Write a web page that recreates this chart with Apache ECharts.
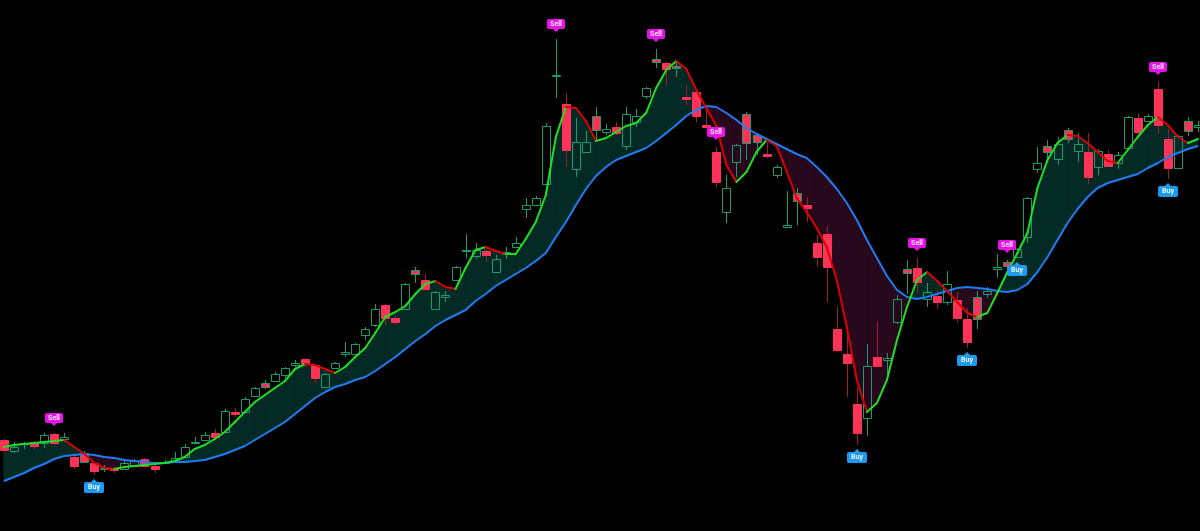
<!DOCTYPE html>
<html>
<head>
<meta charset="utf-8">
<title>Signals chart</title>
<script src="https://cdn.jsdelivr.net/npm/echarts@6/dist/echarts.min.js"></script>
<style>
  html, body { margin: 0; padding: 0; background: #000; overflow: hidden; }
  /* bars run a little past both edges of the window */
  #chart { width: 1204px; height: 531px; margin-left: -1px; }
</style>
</head>
<body>
<div id="chart"></div>
<script>
// candle data, one entry per bar
const opens = [
  91, 80, 87, 89, 88, 97, 92, 74, 78, 68,
  63, 63, 62, 65, 72, 65, 68, 69, 74, 88,
  91, 98, 99, 119, 119, 135, 148, 150, 156, 166,
  172, 166, 144, 163, 177, 177, 196, 206, 226, 213,
  222, 261, 251, 222, 234, 251, 281, 275, 280, 259,
  277, 284, 322, 326, 347, 455, 427, 362, 379, 415,
  399, 404, 385, 409, 435, 472, 468, 465, 434, 439,
  406, 379, 319, 369, 417, 396, 377, 356, 304, 338,
  326, 288, 297, 202, 177, 127, 113, 174, 171, 209,
  262, 263, 232, 235, 229, 231, 212, 234, 237, 262,
  269, 274, 294, 362, 385, 372, 401, 380, 379, 364,
  377, 368, 383, 413, 410, 442, 392, 363, 410, 404
];
const closes = [
  81, 84, 88, 85, 96, 88, 94, 65, 69, 60,
  62, 61, 68, 70, 65, 62, 69, 73, 84, 89,
  96, 94, 120, 117, 132, 143, 144, 157, 163, 168,
  168, 153, 157, 168, 179, 187, 202, 222, 213, 209,
  247, 257, 242, 239, 236, 264, 280, 281, 276, 272,
  279, 288, 326, 333, 405, 456, 381, 389, 389, 401,
  402, 398, 417, 415, 443, 469, 462, 463, 432, 415,
  404, 349, 343, 386, 388, 389, 375, 364, 306, 330,
  323, 274, 264, 181, 168, 98, 165, 165, 173, 232,
  258, 249, 239, 229, 247, 213, 189, 212, 240, 264,
  265, 282, 333, 368, 379, 387, 392, 387, 354, 380,
  365, 376, 414, 399, 415, 406, 363, 395, 400, 406
];
const lows = [
  79, 78, 82, 82, 83, 86, 89, 62, 68, 56,
  59, 58, 61, 64, 64, 58, 67, 68, 73, 87,
  90, 91, 98, 114, 118, 134, 142, 149, 153, 164,
  164, 148, 143, 162, 174, 176, 191, 204, 206, 206,
  221, 248, 241, 221, 229, 250, 273, 272, 269, 258,
  272, 283, 313, 325, 346, 433, 364, 354, 378, 391,
  396, 396, 381, 404, 432, 463, 445, 454, 426, 409,
  403, 344, 308, 354, 371, 376, 373, 353, 303, 306,
  309, 264, 229, 179, 134, 86, 95, 164, 154, 207,
  237, 238, 224, 222, 226, 208, 183, 202, 233, 253,
  263, 273, 288, 358, 368, 366, 388, 369, 347, 356,
  364, 362, 382, 394, 409, 397, 352, 362, 395, 399
];
const highs = [
  92, 89, 89, 90, 98, 98, 98, 76, 80, 69,
  66, 64, 70, 72, 73, 66, 71, 79, 87, 94,
  99, 102, 122, 123, 134, 144, 151, 159, 164, 171,
  173, 167, 158, 169, 189, 188, 204, 227, 227, 216,
  248, 264, 257, 240, 240, 265, 297, 288, 281, 276,
  284, 294, 333, 335, 408, 492, 438, 413, 400, 424,
  407, 409, 424, 422, 444, 482, 469, 471, 446, 440,
  423, 384, 356, 387, 419, 398, 388, 366, 340, 343,
  334, 296, 305, 224, 204, 143, 187, 209, 178, 236,
  271, 273, 248, 241, 260, 239, 223, 240, 244, 277,
  271, 283, 334, 384, 391, 394, 403, 398, 398, 382,
  381, 379, 415, 418, 417, 449, 402, 396, 414, 410
];
// fast line (green up / red down) and slow line (blue)
const fastLine = [
  84, 86, 87, 88, 89, 90, 91, 84, 77, 68,
  63, 62, 64, 65, 66, 67, 68, 70, 74, 82,
  86, 92, 99, 109, 119, 129, 136, 143, 150, 162,
  167, 166, 162, 158, 164, 174, 183, 198, 214, 219,
  225, 237, 247, 250, 244, 242, 263, 281, 284, 280,
  277, 277, 292, 309, 336, 394, 424, 423, 410, 390,
  393, 399, 405, 408, 418, 443, 461, 470, 462, 441,
  423, 405, 366, 349, 359, 379, 391, 385, 360, 333,
  319, 303, 284, 251, 204, 151, 119, 128, 151, 191,
  224, 251, 259, 250, 240, 229, 218, 214, 218, 238,
  259, 278, 298, 343, 371, 388, 396, 395, 388, 379,
  370, 368, 381, 394, 406, 414, 406, 394, 388, 392
];
const slowLine = [
  50, 54, 58, 63, 67, 72, 75, 76, 77, 76,
  74, 73, 71, 70, 69, 68, 68, 69, 69, 70,
  71, 74, 77, 81, 85, 91, 97, 103, 109, 117,
  125, 133, 139, 144, 147, 151, 154, 160, 167, 174,
  182, 190, 197, 205, 211, 216, 221, 230, 237, 245,
  251, 257, 263, 270, 278, 294, 309, 326, 342, 355,
  364, 371, 375, 379, 383, 390, 398, 406, 415, 421,
  425, 424, 418, 411, 403, 397, 392, 387, 382, 377,
  373, 364, 354, 342, 328, 311, 291, 273, 255, 241,
  234, 232, 234, 237, 240, 243, 244, 243, 242, 240,
  239, 241, 247, 259, 274, 291, 308, 322, 334, 343,
  348, 351, 354, 357, 363, 368, 374, 378, 382, 385
];
// bars that carry a signal label
const sellBars = [5, 55, 65, 71, 91, 100, 115];
const buyBars = [9, 85, 96, 101, 116];

const UP = '#1a9c6c';
const DOWN = '#ff3358';
const DOWN_WICK = '#9c1c30';
const FAST_UP = '#22dd22';
const FAST_DOWN = '#dd0000';
const SLOW = '#1f7cf2';
const BULL_FILL = '#042a26';
const BEAR_FILL = '#28081c';
const SELL_BG = '#e812e8';
const BUY_BG = '#1e9bf0';

const cats = opens.map((v, i) => i);
const candleData = opens.map((o, i) => [i, o, closes[i], lows[i], highs[i]]);
const segData = fastLine.slice(0, -1).map((v, i) => [i, v, fastLine[i + 1]]);
const bandData = fastLine.slice(0, -1).map((v, i) => [i, v, fastLine[i + 1], slowLine[i], slowLine[i + 1]]);
const sellData = sellBars.map(i => [i, highs[i]]);
const buyData = buyBars.map(i => [i, lows[i]]);

function renderCandle(params, api) {
  const i = api.value(0);
  const o = api.value(1), c = api.value(2), l = api.value(3), h = api.value(4);
  const x = Math.round(api.coord([i, o])[0]) + 0.5;
  const yo = api.coord([i, o])[1], yc = api.coord([i, c])[1];
  const yl = api.coord([i, l])[1], yh = api.coord([i, h])[1];
  const top = Math.round(Math.min(yo, yc)) + 0.5;
  const hgt = Math.max(1, Math.round(Math.abs(yo - yc)));
  const bot = top + hgt;
  const up = c >= o;
  // red bodies that still close above the previous bar keep a green outline
  const greenEdge = up || (i > 0 && c > closes[i - 1]);
  const edge = greenEdge ? UP : DOWN;
  const wick = greenEdge ? UP : DOWN_WICK;
  return {
    type: 'group',
    children: [
      { type: 'line', shape: { x1: x, y1: yh, x2: x, y2: top }, style: { stroke: wick, lineWidth: 1 } },
      { type: 'line', shape: { x1: x, y1: bot, x2: x, y2: yl }, style: { stroke: wick, lineWidth: 1 } },
      {
        type: 'rect',
        shape: { x: x - 4, y: top, width: 8, height: hgt },
        style: { fill: up ? 'transparent' : DOWN, stroke: edge, lineWidth: 1 }
      }
    ]
  };
}

function renderSegment(params, api) {
  const i = api.value(0);
  const a = api.coord([i, api.value(1)]);
  const b = api.coord([i + 1, api.value(2)]);
  return {
    type: 'line',
    shape: { x1: a[0], y1: a[1], x2: b[0], y2: b[1] },
    style: { stroke: api.value(2) >= api.value(1) ? FAST_UP : FAST_DOWN, lineWidth: 2, lineCap: 'round' }
  };
}

// filled band between the two lines, split where they cross
function renderBand(params, api) {
  const i = api.value(0);
  const fv0 = api.value(1), fv1 = api.value(2), sv0 = api.value(3), sv1 = api.value(4);
  const f0 = api.coord([i, fv0]), f1 = api.coord([i + 1, fv1]);
  const s0 = api.coord([i, sv0]), s1 = api.coord([i + 1, sv1]);
  const d0 = fv0 - sv0, d1 = fv1 - sv1;
  const col = d => (d >= 0 ? BULL_FILL : BEAR_FILL);
  const poly = (pts, c) => ({ type: 'polygon', shape: { points: pts }, style: { fill: c, stroke: c, lineWidth: 1.5 } });
  if (d0 * d1 < 0) {
    const t = d0 / (d0 - d1);
    const p = [f0[0] + (f1[0] - f0[0]) * t, f0[1] + (f1[1] - f0[1]) * t];
    return { type: 'group', children: [poly([f0, p, s0], col(d0)), poly([p, f1, s1], col(d1))] };
  }
  return poly([f0, f1, s1, s0], col(d0 + d1));
}

function renderSell(params, api) {
  const p = api.coord([api.value(0), api.value(1)]);
  const x = Math.round(p[0]);
  const tip = p[1] - 7;
  const boxBot = tip - 3;
  return {
    type: 'group',
    children: [
      { type: 'rect', shape: { x: x - 9, y: boxBot - 10, width: 18, height: 10, r: 2 }, style: { fill: SELL_BG } },
      { type: 'polygon', shape: { points: [[x - 3, boxBot], [x + 3, boxBot], [x, tip]] }, style: { fill: SELL_BG } },
      {
        type: 'text',
        style: { text: 'Sell', x: x, y: boxBot - 5, align: 'center', verticalAlign: 'middle',
                 fill: '#fbe6fb', font: 'bold 7px Roboto, sans-serif' }
      }
    ]
  };
}

function renderBuy(params, api) {
  const p = api.coord([api.value(0), api.value(1)]);
  const x = Math.round(p[0]);
  const tip = p[1] + 4;
  const boxTop = tip + 3;
  return {
    type: 'group',
    children: [
      { type: 'rect', shape: { x: x - 10, y: boxTop, width: 20, height: 11, r: 2 }, style: { fill: BUY_BG } },
      { type: 'polygon', shape: { points: [[x - 3, boxTop], [x + 3, boxTop], [x, tip]] }, style: { fill: BUY_BG } },
      {
        type: 'text',
        style: { text: 'Buy', x: x, y: boxTop + 5.5, align: 'center', verticalAlign: 'middle',
                 fill: '#e6f4ff', font: 'bold 7px Roboto, sans-serif' }
      }
    ]
  };
}

const chart = echarts.init(document.getElementById('chart'));
chart.setOption({
  backgroundColor: '#000',
  animation: false,
  grid: { left: 0, right: 0, top: 0, bottom: 0 },
  xAxis: { type: 'category', data: cats, boundaryGap: true, show: false },
  yAxis: { type: 'value', min: 0, max: 531, show: false },
  series: [
    { type: 'custom', z: 1, silent: true, data: bandData, renderItem: renderBand },
    { type: 'custom', z: 2, silent: true, data: candleData, renderItem: renderCandle },
    {
      type: 'line', z: 3, silent: true, data: slowLine, showSymbol: false,
      lineStyle: { color: SLOW, width: 2 }
    },
    { type: 'custom', z: 4, silent: true, data: segData, renderItem: renderSegment },
    { type: 'custom', z: 5, silent: true, data: sellData, renderItem: renderSell },
    { type: 'custom', z: 5, silent: true, data: buyData, renderItem: renderBuy }
  ]
});
</script>
</body>
</html>
